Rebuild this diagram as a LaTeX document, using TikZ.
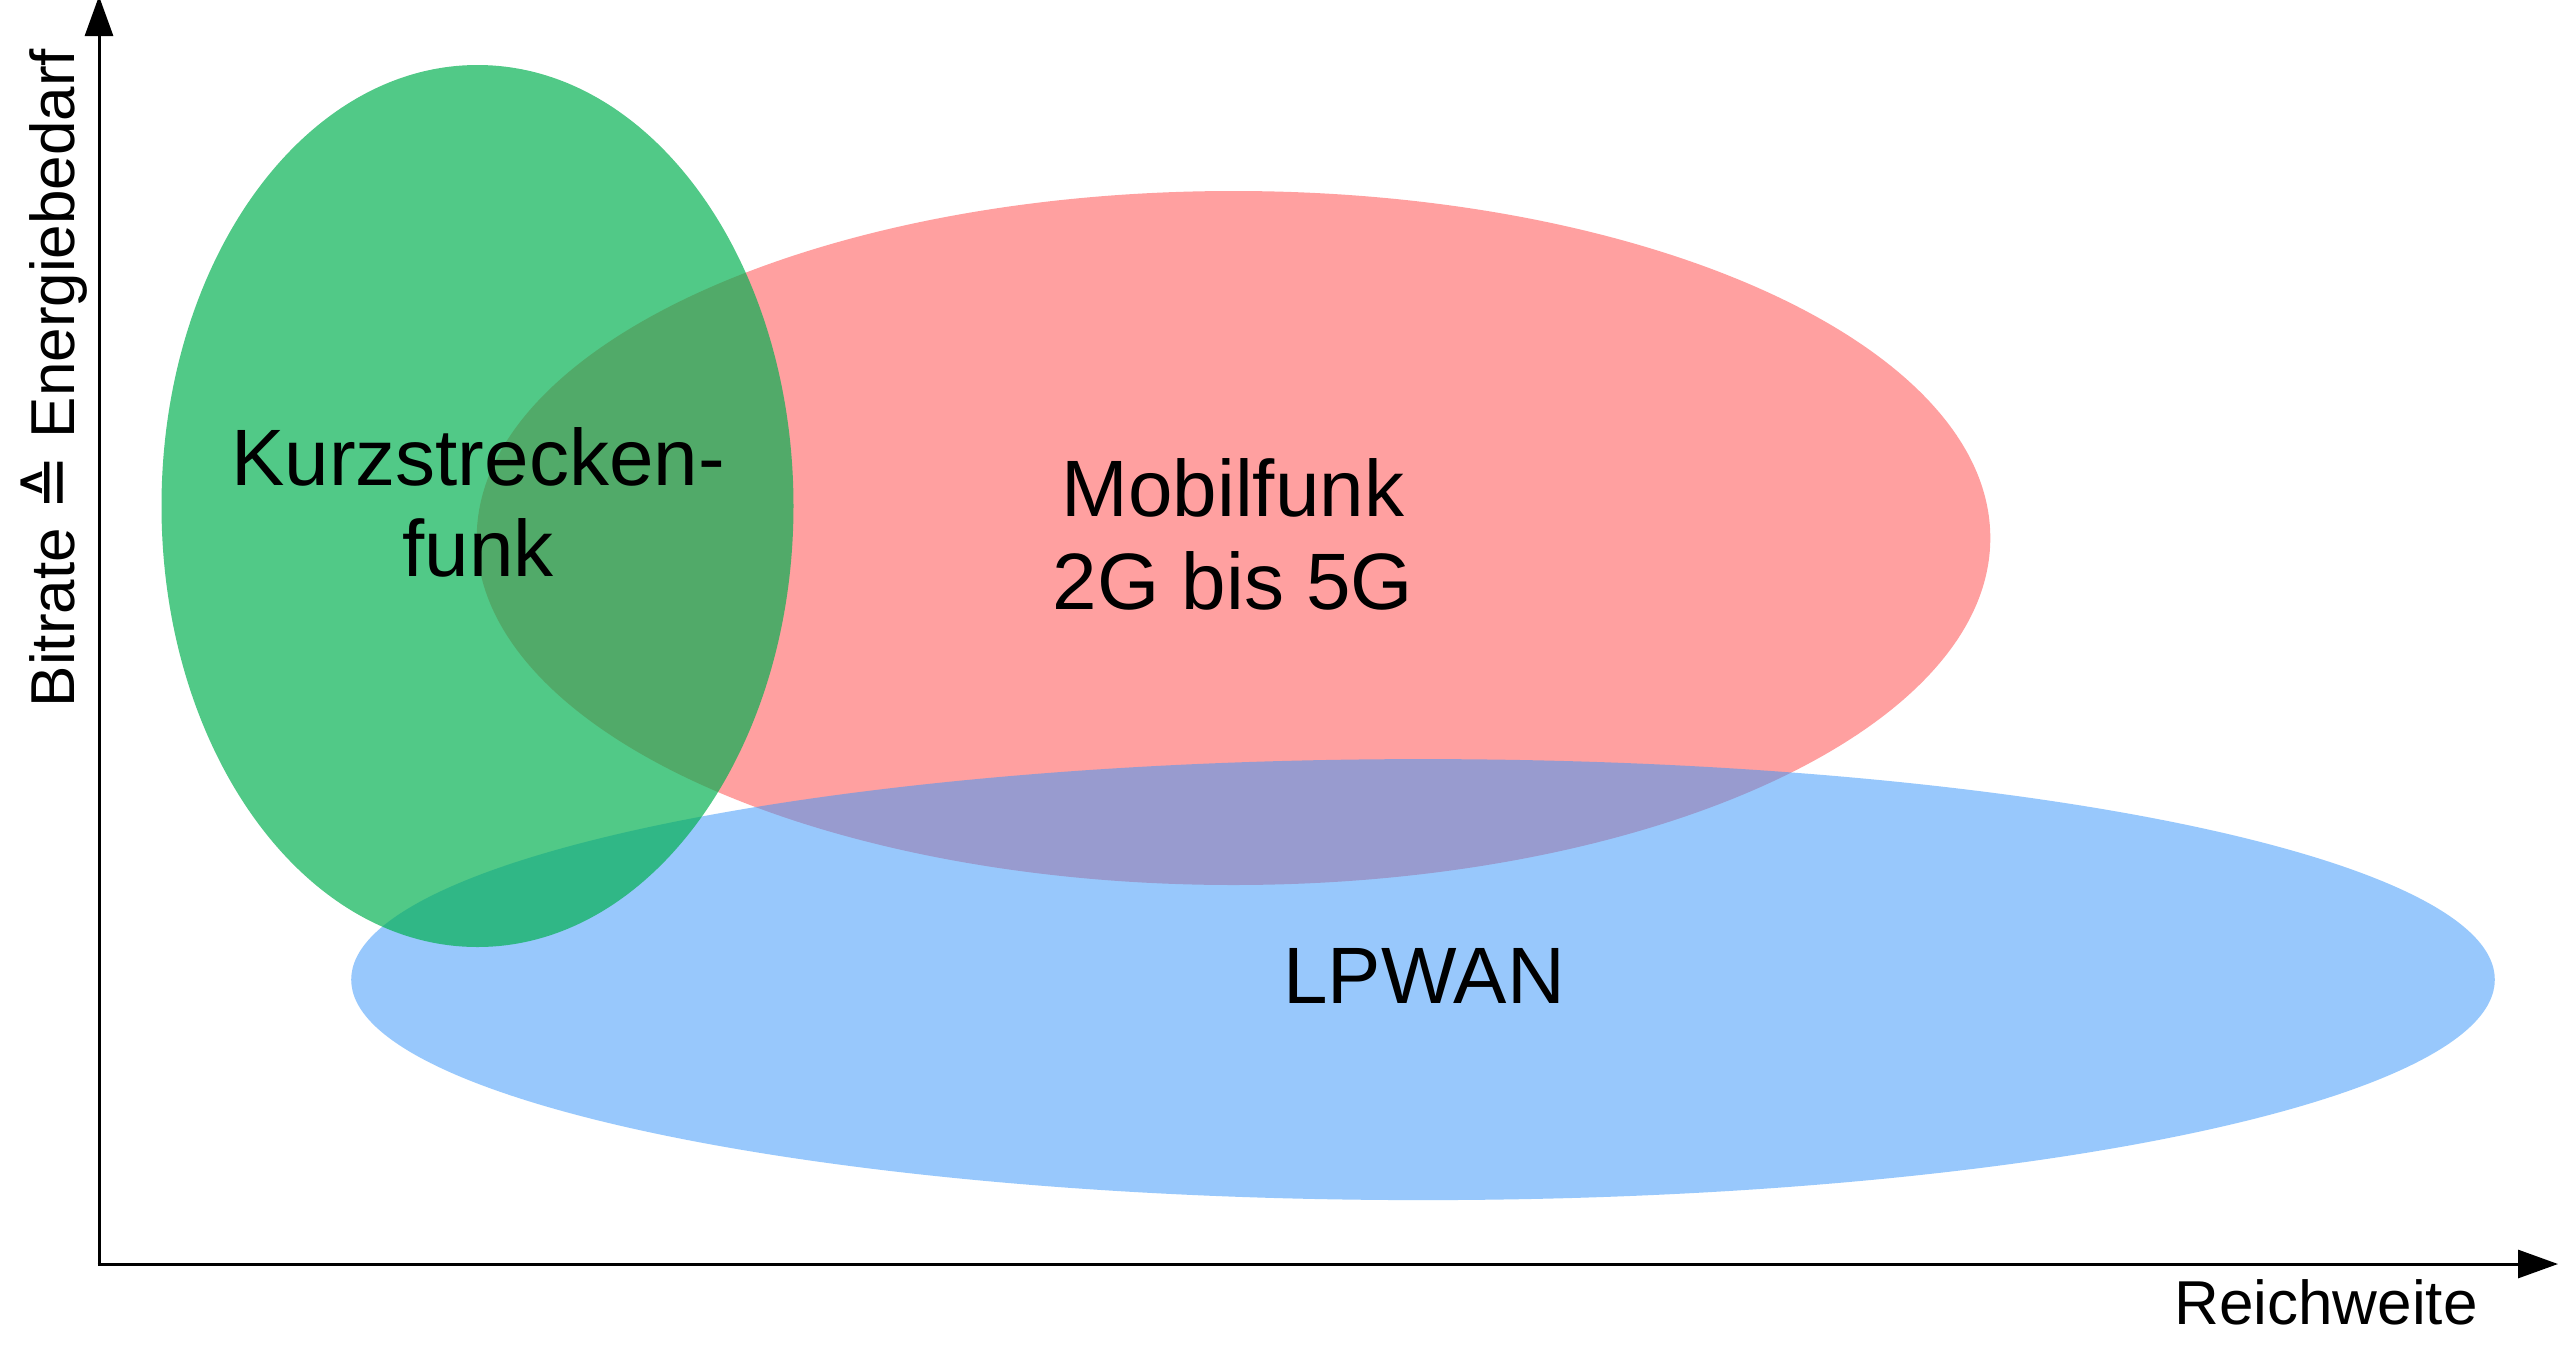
\documentclass[tikz,border=0pt]{standalone}
\usepackage{fontspec}
\setmainfont{Liberation Sans}
\newfontfamily\dejavu{DejaVu Sans}
\usetikzlibrary{arrows.meta}
\definecolor{mobred}{RGB}{255,160,160}
\definecolor{lpblue}{RGB}{59,152,250}
\definecolor{kzgreen}{RGB}{0,176,80}
\tikzset{
  axis/.style={line width=3pt, -{Triangle[length=40pt,width=28pt]}},
  biglabel/.style={font=\fontsize{80}{92}\selectfont, inner sep=0pt, anchor=base},
  axlabel/.style={font=\fontsize{62}{70}\selectfont, inner sep=0pt}
}
\begin{document}
\begin{tikzpicture}[x=1pt,y=-1pt]
\useasboundingbox[fill=white] (0,0) rectangle (2560,1371);
% ellipses
\fill[mobred] (1233.5,538) ellipse [x radius=756.8pt, y radius=347pt];
\fill[lpblue, opacity=0.525] (1423,979.6) ellipse [x radius=1071.8pt, y radius=220.5pt];
\fill[kzgreen, opacity=0.684] (477.5,506) ellipse [x radius=316pt, y radius=441pt];
% axes
\coordinate (origin) at (99,1264);
\coordinate (ytip) at (99,-4);
\coordinate (xtip) at (2558,1264);
\draw[axis] (origin) -- (ytip);
\draw[axis] ([xshift=-1.5pt]origin) -- (xtip);
% labels
\node[biglabel] (kurz1) at (478,485) {Kurzstrecken-};
\node[biglabel] (kurz2) at (478,576) {funk};
\node[biglabel] (mob1) at (1233,516) {Mobilfunk};
\node[biglabel] (mob2) at (1233,609) {2G bis 5G};
\node[biglabel] (lpwan) at (1424,1003) {LPWAN};
\node[axlabel, anchor=base] (xlab) at (2326,1324) {Reichweite};
\node[axlabel, rotate=90, anchor=base] (ylab) at (74,378) {Bitrate {\dejavu\fontsize{66}{70}\selectfont ≙} Energiebedarf};
\end{tikzpicture}
\end{document}
